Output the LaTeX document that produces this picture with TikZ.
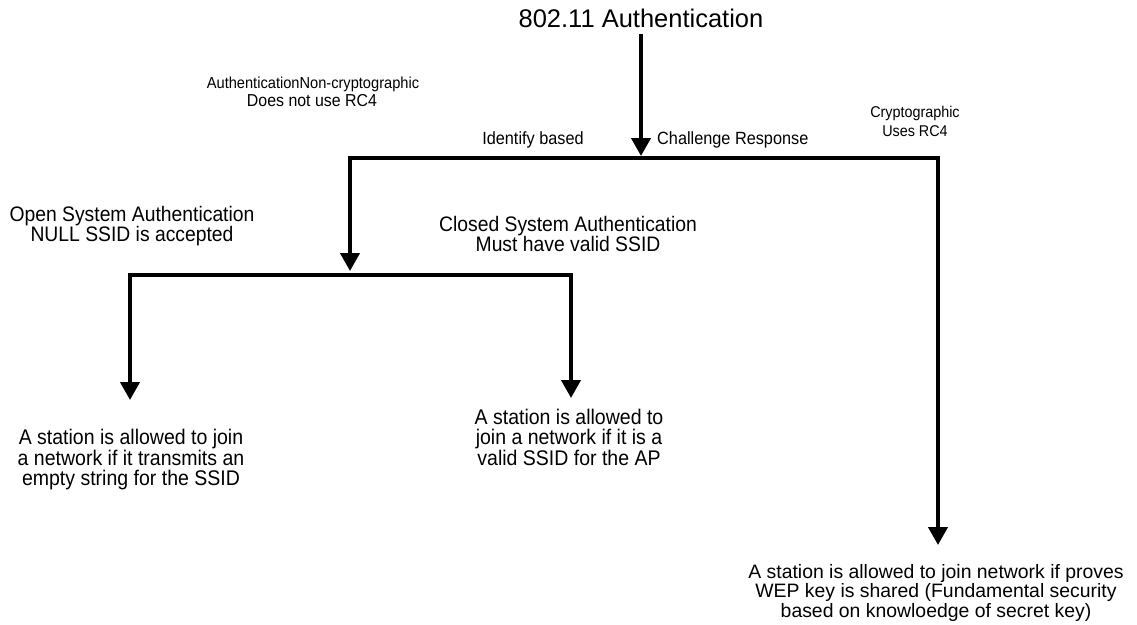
\documentclass[tikz,border=0pt]{standalone}
\usepackage{fontspec}
\setmainfont{Liberation Sans}
\newfontfamily\narrowfont{Liberation Sans}[FakeStretch=0.92]
\usetikzlibrary{arrows.meta}
\begin{document}
\begin{tikzpicture}[x=1pt,y=-1pt,
  tip/.tip={Triangle[width=19pt,length=18pt]},
  flow/.style={line width=4pt,-tip},
  fork/.style={line width=4pt,tip-tip,line join=miter},
  lbl/.style={inner sep=0pt,align=center,anchor=base},
  nfont/.style={font=\narrowfont\fontsize{#1}{20}\selectfont},
]
\useasboundingbox (0,0) rectangle (1137,624);

% title and first level
\node[lbl,font=\fontsize{25.5}{30}\selectfont] (title) at (641,27) {802.11 Authentication};
\coordinate (hub) at (641,156);
\draw[flow,shorten <=7pt] (title) -- (hub);

\coordinate (tipId)  at (350,271);
\coordinate (barL)   at (350,158);
\coordinate (barR)   at (938,158);
\coordinate (tipCh)  at (938,545);
\draw[fork] (tipId) -- (barL) -- (barR) -- (tipCh);

% second level under the identity based branch
\coordinate (tipOpen)   at (130,400);
\coordinate (bar2L)     at (130,275);
\coordinate (bar2R)     at (571,275);
\coordinate (tipClosed) at (571,398);
\draw[fork] (tipOpen) -- (bar2L) -- (bar2R) -- (tipClosed);

% labels (multi-line nodes sit on the baseline of their last line)
\node[lbl,nfont=15.9] (noncrypto) at (313,88) {AuthenticationNon-cryptographic};
\node[lbl,nfont=17.3] (norc4) at (312,106) {Does not use RC4};
\node[lbl,nfont=17.7] (ident) at (533,144) {Identify based};
\node[lbl,nfont=17.7,anchor=base west] (chal) at (657,144) {Challenge Response};
\node[lbl,font=\narrowfont\fontsize{15.6}{19}\selectfont] (crypto) at (915,136) {Cryptographic\\Uses RC4};
\node[lbl,nfont=21] (open) at (132,241.7) {Open System Authentication\\NULL SSID is accepted};
\node[lbl,nfont=21] (closed) at (568,251) {Closed System Authentication\\Must have valid SSID};

% outcomes
\node[lbl,font=\narrowfont\fontsize{21.2}{19.5}\selectfont] (openres) at (131,485)
  {A station is allowed to join\\a network if it transmits an\\empty string for the SSID};
\node[lbl,font=\narrowfont\fontsize{21.2}{19.5}\selectfont] (closedres) at (569,465)
  {A station is allowed to\\join a network if it is a\\valid SSID for the AP};
\node[lbl,font=\fontsize{19.4}{17}\selectfont] (wepres) at (936,617)
  {A station is allowed to join network if proves\\WEP key is shared (Fundamental security\\based on knowloedge of secret key)};
\end{tikzpicture}
\end{document}
